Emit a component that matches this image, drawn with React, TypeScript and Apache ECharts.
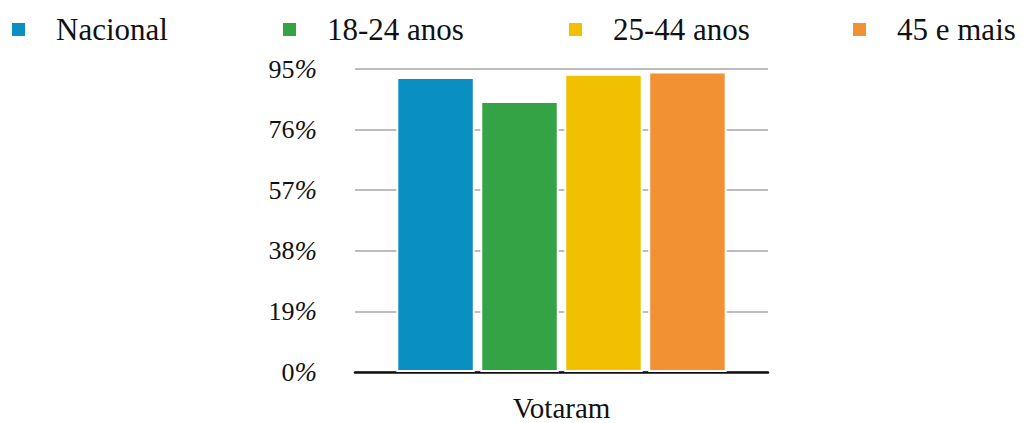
import React, { useEffect, useRef } from "react";
import * as echarts from "echarts";

const categories = ["Votaram"];
const seriesNames = ["Nacional", "18-24 anos", "25-44 anos", "45 e mais"];
const seriesValues = [92.5, 85, 93.5, 94.2];
const seriesColors = ["#0a8fc2", "#33a345", "#f1c000", "#f29133"];
const legendLefts = [10, 281, 567, 851];
const yTicks = [0, 19, 38, 57, 76, 95];

const FONT = "Liberation Serif";

export default function App() {
  const ref = useRef<HTMLDivElement>(null);

  useEffect(() => {
    document.body.style.margin = "0";
    if (!ref.current) return;
    const chart = echarts.init(ref.current, undefined, { renderer: "svg" });

    const legends = seriesNames.map((name, i) => ({
      show: true,
      data: [name],
      left: legendLefts[i],
      top: 14,
      padding: 0,
      icon: "rect",
      itemWidth: 15,
      itemHeight: 15,
      selectedMode: false,
      textStyle: {
        fontFamily: FONT,
        fontSize: 31,
        color: "#111",
        padding: [0, 0, 0, 25],
      },
    }));

    chart.setOption({
      animation: false,
      backgroundColor: "#fff",
      textStyle: { fontFamily: FONT, color: "#111" },
      legend: legends,
      grid: { left: 355, right: 258, top: 69, bottom: 51, containLabel: false },
      xAxis: {
        type: "category",
        data: categories,
        axisTick: { show: false },
        axisLine: { show: true, lineStyle: { color: "#111", width: 2.5 } },
        axisLabel: {
          fontFamily: FONT,
          fontSize: 29,
          color: "#111",
          margin: 21,
        },
      },
      yAxis: {
        type: "value",
        min: yTicks[0],
        max: yTicks[yTicks.length - 1],
        interval: 19,
        axisLine: { show: false },
        axisTick: { show: false },
        splitLine: { lineStyle: { color: "#bdbdbd", width: 2 } },
        axisLabel: {
          color: "#111",
          margin: 38,
          formatter: (v: number) => `{n|${v}}{p|%}`,
          rich: {
            n: { fontFamily: FONT, fontSize: 26, color: "#111" },
            p: { fontFamily: FONT, fontSize: 27, fontStyle: "italic", color: "#111" },
          },
        },
      },
      series: seriesNames.map((name, i) => ({
        name,
        type: "bar",
        data: [seriesValues[i]],
        barGap: "7%",
        barCategoryGap: "20%",
        itemStyle: {
          color: seriesColors[i],
          borderColor: "#fff",
          borderWidth: 2,
        },
      })),
    });

    return () => chart.dispose();
  }, []);

  return <div ref={ref} style={{ width: 1026, height: 423 }} />;
}
